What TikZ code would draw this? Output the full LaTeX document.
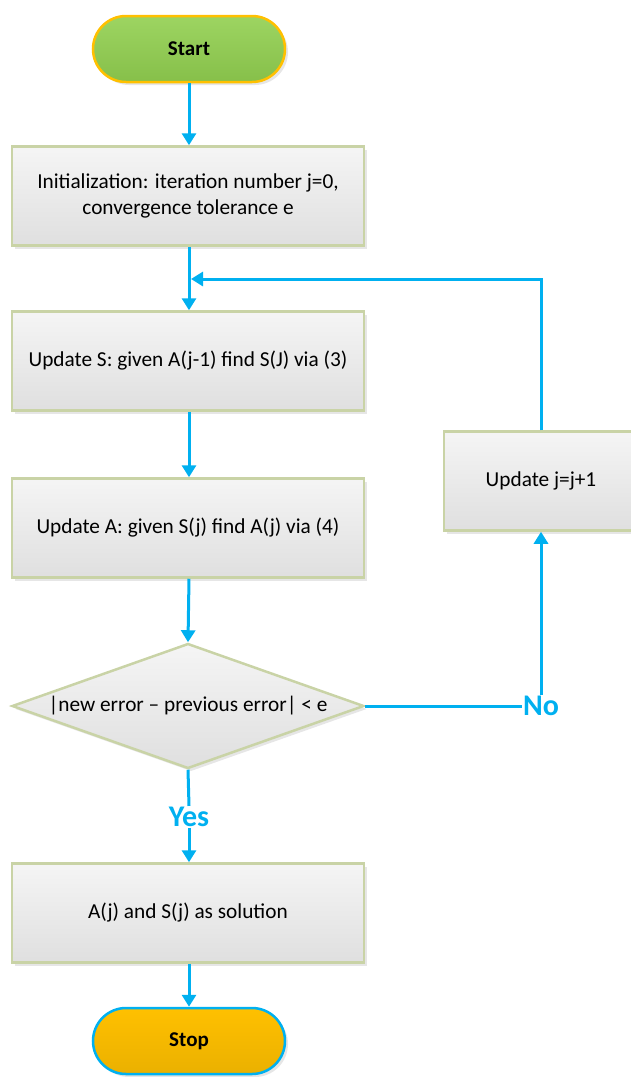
\documentclass[tikz,border=0pt]{standalone}
\usepackage{fontspec}
\setmainfont{Carlito}
\usetikzlibrary{shapes.geometric,arrows.meta,shadows}

\definecolor{flowblue}{HTML}{00B0F0}
\definecolor{boxline}{HTML}{C9D3A6}
\definecolor{startgreen}{HTML}{92D050}
\definecolor{stopgold}{HTML}{FFC000}

\begin{document}
\begin{tikzpicture}[x=1pt,y=-1pt,
    every node/.style={font=\fontsize{21.3}{26}\selectfont, align=center},
    stepbox/.style={draw=boxline, line width=2.5pt, top color=gray!8, bottom color=gray!25,
        minimum width=352pt, minimum height=99pt, inner sep=0pt,
        drop shadow={opacity=0.2, shadow xshift=3pt, shadow yshift=-3pt}},
    termbox/.style={line width=2.5pt, rounded corners=33pt, minimum width=192pt,
        minimum height=66pt, font=\fontsize{21}{25}\selectfont\bfseries,
        drop shadow={opacity=0.2, shadow xshift=3pt, shadow yshift=-3pt}},
    flow/.style={draw=flowblue, line width=3pt},
    flowarrow/.style={flow, -{Triangle[width=14pt,length=12pt]}},
    answer/.style={text=flowblue, font=\fontsize{30}{34}\selectfont\bfseries, inner sep=1pt}]
    \useasboundingbox (0,0) rectangle (630,1077);
    % terminals and steps
    \node [termbox, draw=stopgold, top color=startgreen!90!white, bottom color=startgreen!92!black] (start) at (189,49) {Start};
    \node [stepbox] (init) at (188,196) {Initialization: iteration number j=0,\\convergence tolerance e};
    \node [stepbox] (supd) at (188,361) {Update S: given A(j-1) find S(J) via (3)};
    \node [stepbox] (aupd) at (188,528) {Update A: given S(j) find A(j) via (4)};
    \node [draw=boxline, line width=2.5pt, diamond, aspect=2.8, top color=gray!8, bottom color=gray!25,
        minimum width=352pt, minimum height=125pt, inner sep=0pt,
        drop shadow={opacity=0.2, shadow xshift=3pt, shadow yshift=-3pt}] (check) at (188,706) {|new error -- previous error| < e};
    \node [stepbox, minimum width=194pt] (jupd) at (541,481) {Update j=j+1};
    \node [stepbox] (sol) at (188,913) {A(j) and S(j) as solution};
    \node [termbox, draw=flowblue, top color=stopgold, bottom color=stopgold!92!black] (stop) at (189,1041) {Stop};
    % answers
    \node [answer] (no) at (541,706) {No};
    \node [answer] (yes) at (189,817) {Yes};
    \coordinate (back) at (191,279);
    % connectors
    \draw [flowarrow] (start.south -| 189,0) -- (init.north -| 189,0);
    \draw [flowarrow] (init.south -| 189,0) -- (supd.north -| 189,0);
    \draw [flowarrow] (supd.south -| 189,0) -- (aupd.north -| 189,0);
    \draw [flowarrow] (aupd.south -| 189,0) -- (check.north);
    \draw [flowarrow] (jupd.north) |- (back);
    \draw [flow] (check.east) -- (no.west);
    \draw [flowarrow] (no.north) -- (jupd.south);
    \draw [flow] (check.south) -- (yes.north);
    \draw [flowarrow] (yes.south) -- (sol.north -| 189,0);
    \draw [flowarrow] (sol.south -| 189,0) -- (stop.north);
\end{tikzpicture}
\end{document}
